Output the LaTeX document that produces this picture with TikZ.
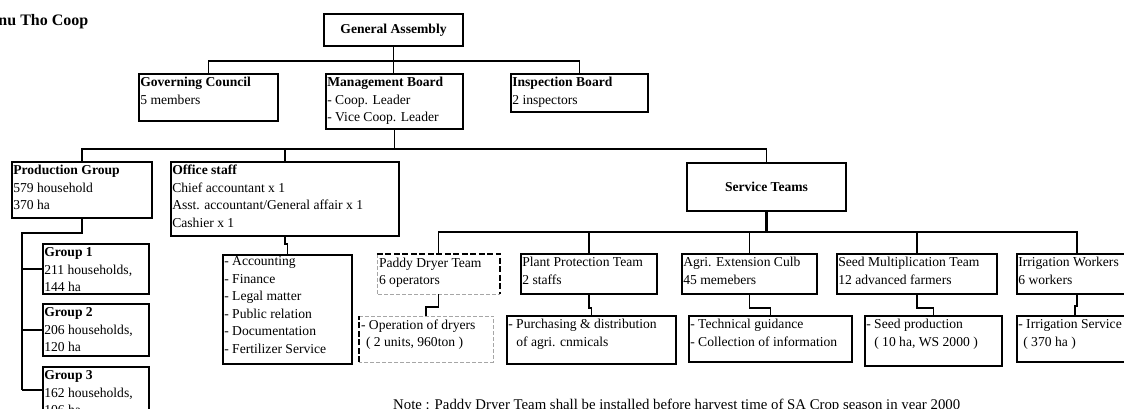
\documentclass[tikz,border=0pt]{standalone}
\usepackage{fontspec}
\setmainfont{Liberation Serif}
\usetikzlibrary{fit}
% a framed box spanning two corner points
\newcommand\orgbox[6][box]{\node[#1, fit={(#3,#4) (#5,#6)}] (#2) {};}
% left-aligned text set in the top left corner of a box
\newcommand\boxtext[3][1]{\node[txt] (#2-t) at ([shift={(2,#1)}]#2.north west) {\strut#3};}
\begin{document}
\begin{tikzpicture}[x=1pt,y=-1pt,
  box/.style={draw, line width=1.8pt, inner sep=0pt},
  openbox/.style={inner sep=0pt},
  txt/.style={anchor=north west, inner sep=0pt, align=left, font=\fontsize{13.6}{17.5}\selectfont},
  ctxt/.style={inner sep=0pt, font=\fontsize{13.6}{17.5}\selectfont\bfseries},
  conn/.style={line width=1.8pt},
  trunk/.style={line width=2.6pt},
  hardedge/.style={line width=2.2pt, dash pattern=on 6pt off 2.5pt},
  softedge/.style={line width=0.6pt, gray!70, dash pattern=on 4pt off 2pt},
]
\useasboundingbox (0,0) rectangle (1124,409);
\fill[white] (0,0) rectangle (1124,409);
\clip (0,0) rectangle (1124,409);

\node[anchor=base east, inner sep=0pt, font=\fontsize{16}{19}\selectfont\bfseries] (title) at (88.5,26) {nu Tho Coop};

% top levels
\orgbox{ga}{324}{14}{463}{46}
\node[ctxt] (ga-t) at (ga.center) {General Assembly};
\orgbox{gc}{139}{74}{278}{121}
\boxtext{gc}{\textbf{Governing Council}\\5 members}
\orgbox{mb}{326}{74}{463}{129}
\boxtext{mb}{\textbf{Management Board}\\- Coop. Leader\\- Vice Coop. Leader}
\orgbox{ib}{511}{74}{648}{112}
\boxtext{ib}{\textbf{Inspection Board}\\2 inspectors}

\orgbox{pg}{12}{162}{152}{218}
\boxtext{pg}{\textbf{Production Group}\\579 household\\370 ha}
\orgbox{os}{171}{162}{399}{236}
\boxtext{os}{\textbf{Office staff}\\Chief accountant x 1\\Asst. accountant/General affair x 1\\Cashier x 1}
\orgbox{st}{687}{163}{846}{211}
\node[ctxt] (st-t) at (st.center) {Service Teams};

% production groups
\orgbox{g1}{43}{244}{149}{294}
\boxtext{g1}{\textbf{Group 1}\\211 households,\\144 ha}
\orgbox{g2}{43}{304}{149}{356}
\boxtext{g2}{\textbf{Group 2}\\206 households,\\120 ha}
\orgbox{g3}{43}{367}{149}{413}
\boxtext{g3}{\textbf{Group 3}\\162 households,\\106 ha}

% office duties
\orgbox{ac}{223}{255}{352}{364}
\boxtext[-1]{ac}{- Accounting\\- Finance\\- Legal matter\\- Public relation\\- Documentation\\- Fertilizer Service}

% service teams
\orgbox[openbox]{pd}{377}{254}{500}{294}
\boxtext{pd}{Paddy Dryer Team\\6 operators}
\orgbox{pp}{521}{254}{657}{294}
\boxtext{pp}{Plant Protection Team\\2 staffs}
\orgbox{ae}{682}{254}{817}{294}
\boxtext{ae}{Agri. Extension Culb\\45 memebers}
\orgbox{sm}{837}{254}{997}{294}
\boxtext{sm}{Seed Multiplication Team\\12 advanced farmers}
\orgbox{iw}{1017}{254}{1137}{294}
\boxtext{iw}{Irrigation Workers\\6 workers}

\orgbox[openbox]{op}{359}{316}{493}{362}
\boxtext{op}{- Operation of dryers\\\hspace*{5pt}( 2 units, 960ton )}
\orgbox{pu}{507}{316}{676}{364}
\boxtext{pu}{- Purchasing \& distribution\\\hspace*{8pt}of agri. cnmicals}
\orgbox{tg}{689}{316}{852}{362}
\boxtext{tg}{- Technical guidance\\- Collection of information}
\orgbox{sp}{865}{316}{1002}{366}
\boxtext{sp}{- Seed production\\\hspace*{8pt}( 10 ha, WS 2000 )}
\orgbox{is}{1017}{316}{1133}{362}
\boxtext{is}{- Irrigation Service\\\hspace*{5pt}( 370 ha )}

% dashed frames of the planned dryer team
\draw[softedge] (pd.north west) -- (pd.south west) -- (pd.south east);
\draw[hardedge] (pd.north west) -- (pd.north east) -- (pd.south east);
\draw[softedge] (op.north west) -- (op.north east) -- (op.south east) -- (op.south west);
\draw[hardedge] (op.south west) -- (op.north west);

% connectors
\coordinate (bus1) at (393,61);
\draw[conn] (ga.south) -- (ga.south |- mb.north);
\draw[conn] (gc.north) |- (bus1) -| (ib.north);

\coordinate (bus2) at (394,149);
\draw[conn] (mb.south) -- (mb.south |- bus2);
\draw[conn] (pg.north) |- (bus2) -| (st.north);
\draw[conn] (os.north) -- (os.north |- bus2);

\coordinate (pgbus) at (22,233);
\draw[trunk] (pg.south) |- (pgbus) -- (pgbus |- g3.west);
\draw[conn] (pgbus |- g1.west) -- (g1.west);
\draw[conn] (pgbus |- g2.west) -- (g2.west);
\draw[conn] (pgbus |- g3.west) -- (g3.west);

\draw[conn] (os.south) -- ++(0,7) -| (ac.north);

\coordinate (bus3) at (766,232);
\draw[trunk] (st.south) -- (st.south |- bus3);
\draw[conn] (pd.north) |- (bus3) -| (iw.north);
\draw[conn] (pp.north) -- (pp.north |- bus3);
\draw[conn] (ae.north) -- (ae.north |- bus3);
\draw[conn] (sm.north) -- (sm.north |- bus3);

\draw[conn] (pd.south) -- ++(0,13) -| (op.north);
\draw[conn] (pp.south) -- ++(0,13) -| (pu.north);
\draw[conn] (ae.south) -- ++(0,13) -| (tg.north);
\draw[conn] (sm.south) -- ++(0,13) -| (sp.north);
\draw[conn] (iw.south) -- ++(0,11) -| (is.north);

\node[anchor=base west, inner sep=0pt, font=\fontsize{14.8}{18}\selectfont] (note) at (393,409)
  {Note : Paddy Dryer Team shall be installed before harvest time of SA Crop season in year 2000};
\end{tikzpicture}
\end{document}
